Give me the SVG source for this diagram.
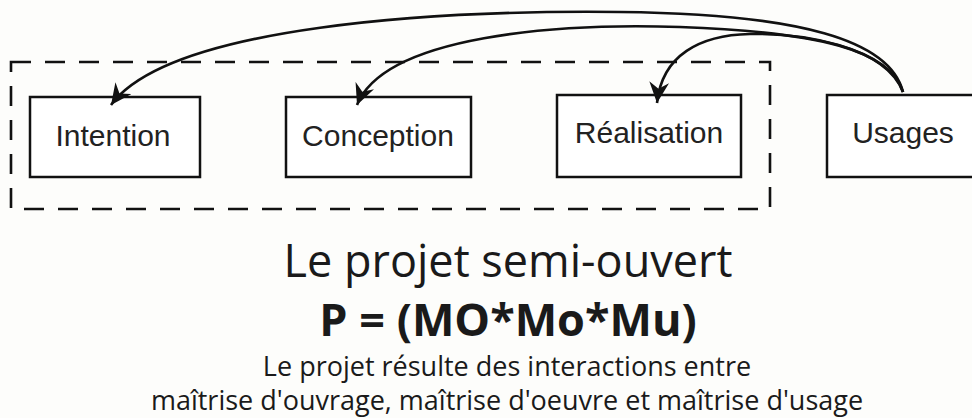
<svg xmlns="http://www.w3.org/2000/svg" width="972" height="418" viewBox="0 0 972 418">
<style>
.box{fill:#fff;stroke:#111;stroke-width:2.5}
.lbl{font-family:"Liberation Sans",Arial,sans-serif;font-size:30px;fill:#222;text-anchor:middle}
.con{fill:none;stroke:#111;stroke-width:2.6;marker-end:url(#ah)}
.cap{font-family:"Open Sans","Noto Sans",sans-serif;fill:#1a1a1a;text-anchor:middle}
</style>
<defs>
<marker id="ah" markerUnits="userSpaceOnUse" markerWidth="22" markerHeight="20" refX="19" refY="9" orient="auto" viewBox="0 0 20 18">
<path d="M0,0 L19,9 L0,18 L6,9 z" fill="#111"/>
</marker>
</defs>
<rect width="972" height="418" fill="#fdfdfb"/>
<rect id="frame" x="11" y="62" width="759" height="147" fill="none" stroke="#111" stroke-width="2.6" stroke-dasharray="20 14"/>
<g id="intention"><rect class="box" x="30" y="97" width="170" height="80"/><text class="lbl" x="113" y="146">Intention</text></g>
<g id="conception"><rect class="box" x="286" y="97" width="185" height="80"/><text class="lbl" x="378" y="146">Conception</text></g>
<g id="realisation"><rect class="box" x="557" y="95" width="184" height="82"/><text class="lbl" x="649" y="143">Réalisation</text></g>
<g id="usages"><rect class="box" x="827" y="95" width="160" height="82"/><text class="lbl" x="903" y="143">Usages</text></g>
<g id="connectors">
<path class="con" d="M903,92 C890,40 800,14 620,12 C440,10 170,25 111,105"/>
<path class="con" d="M903,92 C890,50 820,32 680,27 C560,23 385,35 357,105"/>
<path class="con" d="M903,92 C885,45 800,33 750,34 C700,35 662,55 657,103"/>
</g>
<g id="caption">
<text class="cap" x="508" y="277" font-size="45">Le projet semi-ouvert</text>
<text class="cap" x="508" y="336" font-size="45" font-weight="bold">P = (MO*Mo*Mu)</text>
<text class="cap" x="507" y="376" font-size="27">Le projet résulte des interactions entre</text>
<text class="cap" x="507" y="410" font-size="27">maîtrise d'ouvrage, maîtrise d'oeuvre et maîtrise d'usage</text>
</g>
</svg>
